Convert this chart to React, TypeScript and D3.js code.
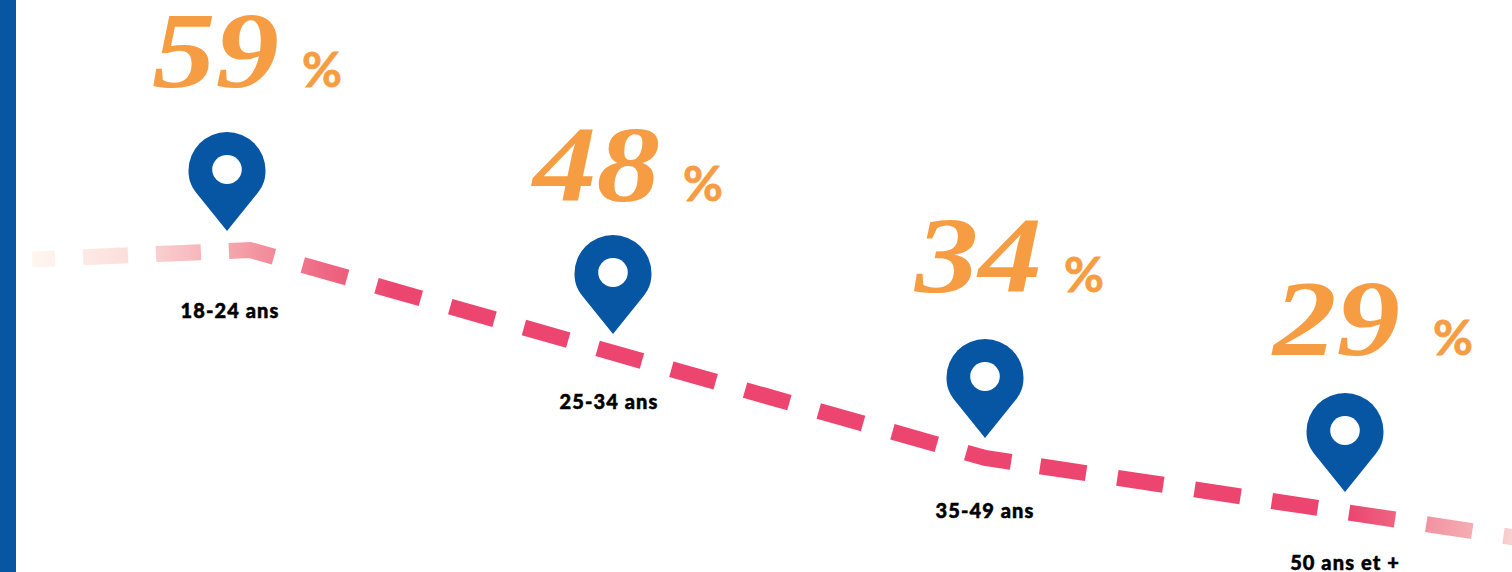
import React from "react";
import * as d3 from "d3";

// Share of respondents per age group
const ageGroups = ["18-24 ans", "25-34 ans", "35-49 ans", "50 ans et +"];
const shares = [59, 48, 34, 29];

// Trail running behind the pins: group position (fractional) and share level
const trailPositions = [-0.505, 0.06, 2, 3.48];
const trailLevels = [58.1, 59.1, 34, 26.6];

const WIDTH = 1512;
const HEIGHT = 572;
const ORANGE = "#F69D44";
const BLUE = "#0756A3";
const PINK = "#EC4570";

const x = d3.scaleLinear().domain([0, 1, 2, 3]).range([227, 613, 985, 1345]);
const y = d3.scaleLinear().domain(shares).range([231, 334, 438, 492]);

const TRAIL_DROP = 20;
const trailPath = d3
  .line<number>()
  .x((_, i) => x(trailPositions[i]))
  .y((d) => y(d) + TRAIL_DROP)
  .curve(d3.curveLinear);

// The dash rhythm loosens slightly along the three legs of the trail
const repeatDash = (dash: number, gap: number, n: number) =>
  d3.range(n).flatMap(() => [dash, gap]);
const trailDashes = [
  23, 28,
  ...repeatDash(45, 28, 2),
  46, 30,
  ...repeatDash(46.1, 30.5, 9),
  46, 29.3,
  ...repeatDash(46.5, 31.6, 8),
].join(" ");

// Per-group offsets of the text blocks, relative to each pin's tip
const bigNumberDx = [-75, -80, -70, -72];
const bigNumberDy = [-144, -133, -146, -137];
const percentDx = [76, 71, 80, 89];
const labelDx = [3, -4, 0, 0];
const labelDy = [87, 75, 80, 78];

const gradientStops: [number, string][] = [
  [33, "#FFF6F0"],
  [130, "#FBDEDB"],
  [230, "#F5A6AD"],
  [320, "#EE6A84"],
  [395, PINK],
  [1350, PINK],
  [1397, "#EF6683"],
  [1430, "#F295A3"],
  [1475, "#F5AEB4"],
  [1512, "#F9D2D2"],
];

function Pin({ tipX, tipY }: { tipX: number; tipY: number }) {
  const r = 38.5;
  const cy = tipY - 60.5;
  const shoulderX = 31;
  const shoulderY = cy + 22;
  return (
    <g>
      <path
        d={`M${tipX} ${tipY} L${tipX - shoulderX} ${shoulderY}
            C${tipX - r + 2} ${cy + 15} ${tipX - r} ${cy + 8} ${tipX - r} ${cy}
            A${r} ${r} 0 1 1 ${tipX + r} ${cy}
            C${tipX + r} ${cy + 8} ${tipX + r - 2} ${cy + 15} ${tipX + shoulderX} ${shoulderY} Z`}
        fill={BLUE}
      />
      <ellipse cx={tipX} cy={cy - 1} rx={14.8} ry={14.4} fill="#fff" />
    </g>
  );
}

export default function App() {
  return (
    <svg
      width={WIDTH}
      height={HEIGHT}
      viewBox={`0 0 ${WIDTH} ${HEIGHT}`}
      style={{ position: "absolute", left: 0, top: 0, display: "block", background: "#fff" }}
    >
      <defs>
        <linearGradient id="trailFade" gradientUnits="userSpaceOnUse" x1={0} x2={WIDTH} y1={0} y2={0}>
          {gradientStops.map(([px, color], i) => (
            <stop key={i} offset={px / WIDTH} stopColor={color} />
          ))}
        </linearGradient>
      </defs>

      <rect x={0} y={0} width={16} height={HEIGHT} fill={BLUE} />

      <path
        d={trailPath(trailLevels) ?? ""}
        fill="none"
        stroke="url(#trailFade)"
        strokeWidth={16}
        strokeDasharray={trailDashes}
      />

      {shares.map((share, i) => {
        const tipX = x(i);
        const tipY = y(share);
        return (
          <g key={ageGroups[i]}>
            <Pin tipX={tipX} tipY={tipY} />
            <text
              x={tipX + bigNumberDx[i]}
              y={tipY + bigNumberDy[i]}
              fontFamily="'Liberation Serif', serif"
              fontStyle="italic"
              fontWeight={700}
              fontSize={109}
              fill={ORANGE}
              textLength={127}
              lengthAdjust="spacingAndGlyphs"
            >
              {share}
            </text>
            <text
              x={tipX + percentDx[i] - 1}
              y={tipY + bigNumberDy[i]}
              fontFamily="Lato, sans-serif"
              fontWeight={700}
              fontSize={47}
              fill={ORANGE}
              stroke={ORANGE}
              strokeWidth={0.8}
              textLength={40}
              lengthAdjust="spacingAndGlyphs"
            >
              %
            </text>
            <text
              x={tipX + labelDx[i]}
              y={tipY + labelDy[i]}
              textAnchor="middle"
              fontFamily="Lato, sans-serif"
              fontWeight={900}
              fontSize={20}
              letterSpacing={1.1}
              fill="#000"
              stroke="#000"
              strokeWidth={0.5}
            >
              {ageGroups[i]}
            </text>
          </g>
        );
      })}
    </svg>
  );
}
